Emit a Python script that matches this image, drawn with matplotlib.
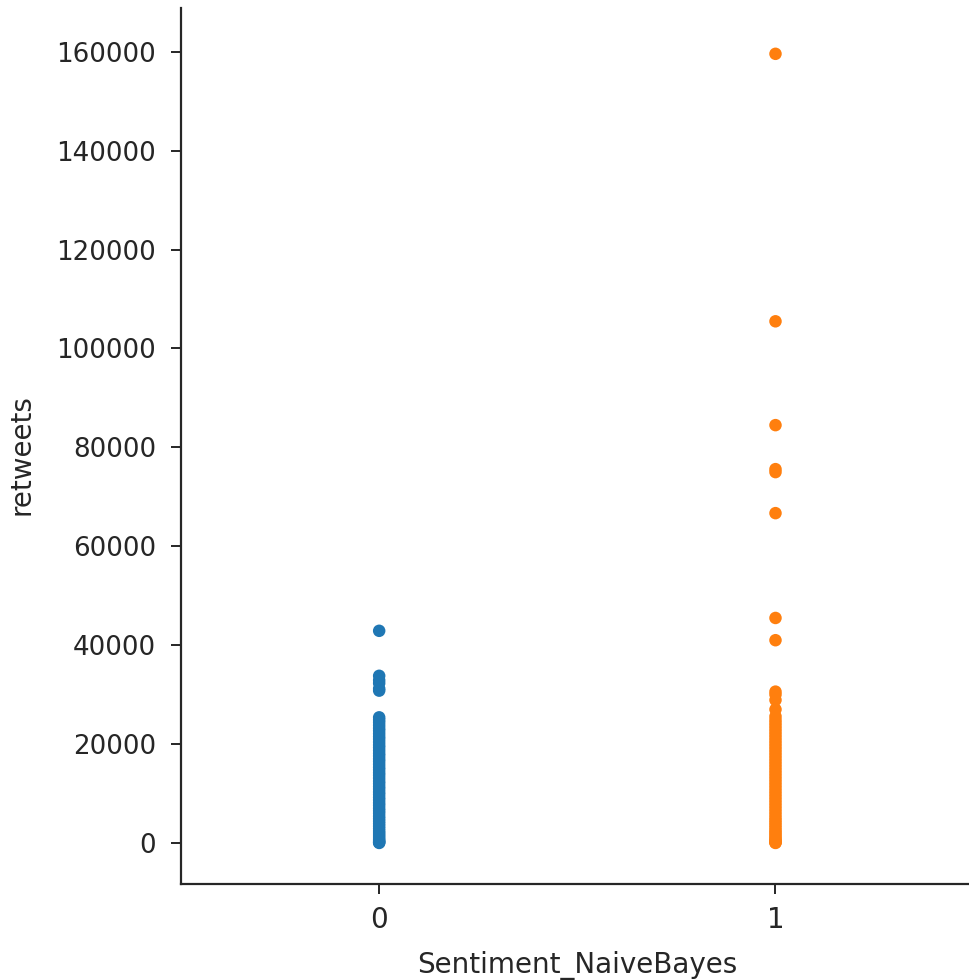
import numpy as np
import pandas as pd
import matplotlib
matplotlib.use("Agg")
import matplotlib.pyplot as plt
import seaborn as sns

# retweets per tweet, split by Naive Bayes sentiment class
retweets_neg = [42900, 33800, 32900, 32300, 31200, 30800, 25400, 24900, 24400,
                23800, 23200, 22700, 22100, 21500, 21000, 20400, 19800, 19300,
                18700, 18100, 17600, 17000, 16500, 15900, 15300, 14800, 14200,
                13700, 13100, 12500, 12000, 11400, 10900, 10300, 9800, 9200,
                8700, 8100, 7600, 7000, 6500, 6000, 5400, 4900, 4400, 3900,
                3400, 2900, 2400, 2000, 1600, 1200, 800, 500, 250, 100, 0]
retweets_pos = [159600, 105500, 84500, 75600, 75000, 66700, 45500, 41000, 30600,
                30000, 28900, 27000, 25600, 24900, 24300, 23700,
                23100, 22500, 21900, 21300, 20700, 20100, 19500, 18900, 18300,
                17700, 17100, 16500, 15900, 15300, 14700, 14100, 13500, 12900,
                12300, 11700, 11100, 10500, 9900, 9300, 8700, 8100, 7500, 6900,
                6300, 5700, 5100, 4600, 4100, 3600, 3100, 2600, 2200, 1800,
                1400, 1000, 700, 400, 200, 80, 0]

df = pd.DataFrame({
    "Sentiment_NaiveBayes": [0] * len(retweets_neg) + [1] * len(retweets_pos),
    "retweets": retweets_neg + retweets_pos,
})

sns.set_style("ticks")
plt.rcParams["font.family"] = ["DejaVu Sans"]

fig = plt.figure(figsize=(9.69, 9.80), dpi=100)
ax = fig.add_axes([0.1868, 0.098, 0.818, 0.894])

sns.stripplot(data=df, x="Sentiment_NaiveBayes", y="retweets",
              hue="Sentiment_NaiveBayes", palette=["#1f77b4", "#ff7f0e"],
              jitter=False, size=9, linewidth=0, legend=False, ax=ax)

ax.set_xlim(-0.5, 1.5)
ax.set_ylim(-8300, 168900)
ax.set_yticks(range(0, 160001, 20000))
sns.despine(ax=ax)

for side in ["left", "bottom"]:
    ax.spines[side].set_linewidth(1.6)
ax.tick_params(axis="y", labelsize=18.8, length=7, width=1.4, pad=11)
ax.tick_params(axis="x", labelsize=20, length=7, width=1.4, pad=9)
ax.set_xlabel("Sentiment_NaiveBayes", fontsize=20, labelpad=12)
ax.set_ylabel("retweets", fontsize=20)
ax.yaxis.set_label_coords(-0.183, 0.49)

fig.savefig("out.png", dpi=100)
